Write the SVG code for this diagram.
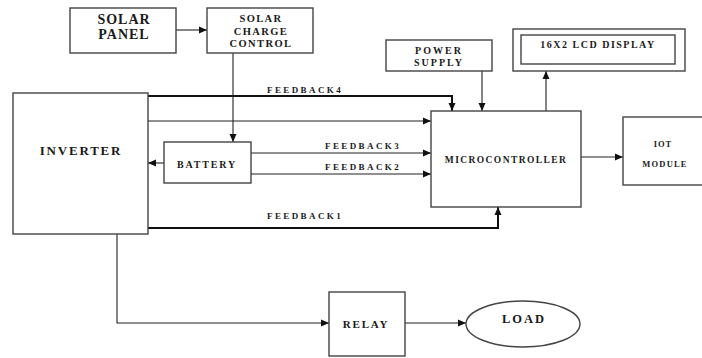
<svg xmlns="http://www.w3.org/2000/svg" width="702" height="358" viewBox="0 0 702 358">
<style>
.box{fill:#fff;stroke:#444;stroke-width:1.4}
.ln{fill:none;stroke:#222;stroke-width:1.1}
.thk{fill:none;stroke:#111;stroke-width:2}
text{font-family:"Liberation Serif","Times New Roman",serif;font-weight:bold;fill:#1a1a1a}
.c{text-anchor:middle}
</style>
<defs>
<marker id="ah" markerUnits="userSpaceOnUse" markerWidth="8" markerHeight="8" viewBox="0 0 8 8" refX="8" refY="4" orient="auto">
<path d="M0,0.5 L8,4 L0,7.5 Z" fill="#111"/>
</marker>
</defs>
<g id="connectors">
<line class="ln" x1="176" y1="30" x2="207" y2="30" marker-end="url(#ah)"/>
<line class="ln" x1="233" y1="53" x2="233" y2="142" marker-end="url(#ah)"/>
<line class="ln" x1="164" y1="163" x2="148" y2="163" marker-end="url(#ah)"/>
<polyline class="thk" points="148,96 452,96 452,111" marker-end="url(#ah)"/>
<line class="ln" x1="148" y1="121" x2="431" y2="121" marker-end="url(#ah)"/>
<line class="ln" x1="482" y1="71" x2="482" y2="111" marker-end="url(#ah)"/>
<line class="ln" x1="546" y1="111" x2="546" y2="71" marker-end="url(#ah)"/>
<line class="ln" x1="251" y1="153" x2="431" y2="153" marker-end="url(#ah)"/>
<line class="ln" x1="251" y1="174" x2="431" y2="174" marker-end="url(#ah)"/>
<polyline class="thk" points="148,228 498,228 498,207" marker-end="url(#ah)"/>
<line class="ln" x1="581" y1="157" x2="623" y2="157" marker-end="url(#ah)"/>
<polyline class="ln" points="117,234 117,323 329,323" marker-end="url(#ah)"/>
<line class="ln" x1="405" y1="323" x2="466" y2="323" marker-end="url(#ah)"/>
<text x="267" y="93" style="font-size:9px;letter-spacing:2.4px">FEEDBACK4</text>
<text x="325" y="149" style="font-size:9px;letter-spacing:2.4px">FEEDBACK3</text>
<text x="325" y="170" style="font-size:9px;letter-spacing:2.4px">FEEDBACK2</text>
<text x="267" y="219" style="font-size:9px;letter-spacing:2.4px">FEEDBACK1</text>
</g>
<g id="solar_panel">
<rect class="box" x="70" y="8" width="106" height="45"/>
<text class="c" x="124" y="24" style="font-size:14px;letter-spacing:1px">SOLAR</text>
<text class="c" x="124" y="39" style="font-size:14px;letter-spacing:1px">PANEL</text>
</g>
<g id="solar_charge_control">
<rect class="box" x="207" y="8" width="106" height="45"/>
<text class="c" x="261" y="22" style="font-size:10.5px;letter-spacing:1.4px">SOLAR</text>
<text class="c" x="261" y="34.5" style="font-size:10.5px;letter-spacing:1.4px">CHARGE</text>
<text class="c" x="261" y="47" style="font-size:10.5px;letter-spacing:1.4px">CONTROL</text>
</g>
<g id="inverter">
<rect class="box" x="13" y="93" width="135" height="141"/>
<text class="c" x="81" y="155" style="font-size:13px;letter-spacing:1.8px">INVERTER</text>
</g>
<g id="battery">
<rect class="box" x="164" y="142" width="87" height="41"/>
<text class="c" x="207" y="168" style="font-size:10px;letter-spacing:1.8px">BATTERY</text>
</g>
<g id="power_supply">
<rect class="box" x="386" y="40" width="106" height="31"/>
<text class="c" x="439" y="54" style="font-size:10px;letter-spacing:2px">POWER</text>
<text class="c" x="439" y="66" style="font-size:10px;letter-spacing:2px">SUPPLY</text>
</g>
<g id="lcd_display">
<rect class="box" x="513" y="29" width="172" height="42"/>
<rect class="box" x="521" y="35" width="154" height="29"/>
<text class="c" x="598" y="48" style="font-size:10px;letter-spacing:1.5px">16X2 LCD DISPLAY</text>
</g>
<g id="microcontroller">
<rect class="box" x="431" y="111" width="150" height="96"/>
<text class="c" x="506" y="163" style="font-size:9.5px;letter-spacing:1.4px">MICROCONTROLLER</text>
</g>
<g id="iot_module">
<rect class="box" x="623" y="117" width="90" height="68"/>
<text class="c" x="663" y="147" style="font-size:8.5px;letter-spacing:1px">IOT</text>
<text class="c" x="665" y="167" style="font-size:8.5px;letter-spacing:1.2px">MODULE</text>
</g>
<g id="relay">
<rect class="box" x="329" y="292" width="76" height="64"/>
<text class="c" x="366" y="328" style="font-size:11px;letter-spacing:1.8px">RELAY</text>
</g>
<g id="load">
<ellipse class="box" cx="523" cy="324" rx="57" ry="23"/>
<text class="c" x="524" y="323" style="font-size:12.5px;letter-spacing:2px">LOAD</text>
</g>
</svg>
